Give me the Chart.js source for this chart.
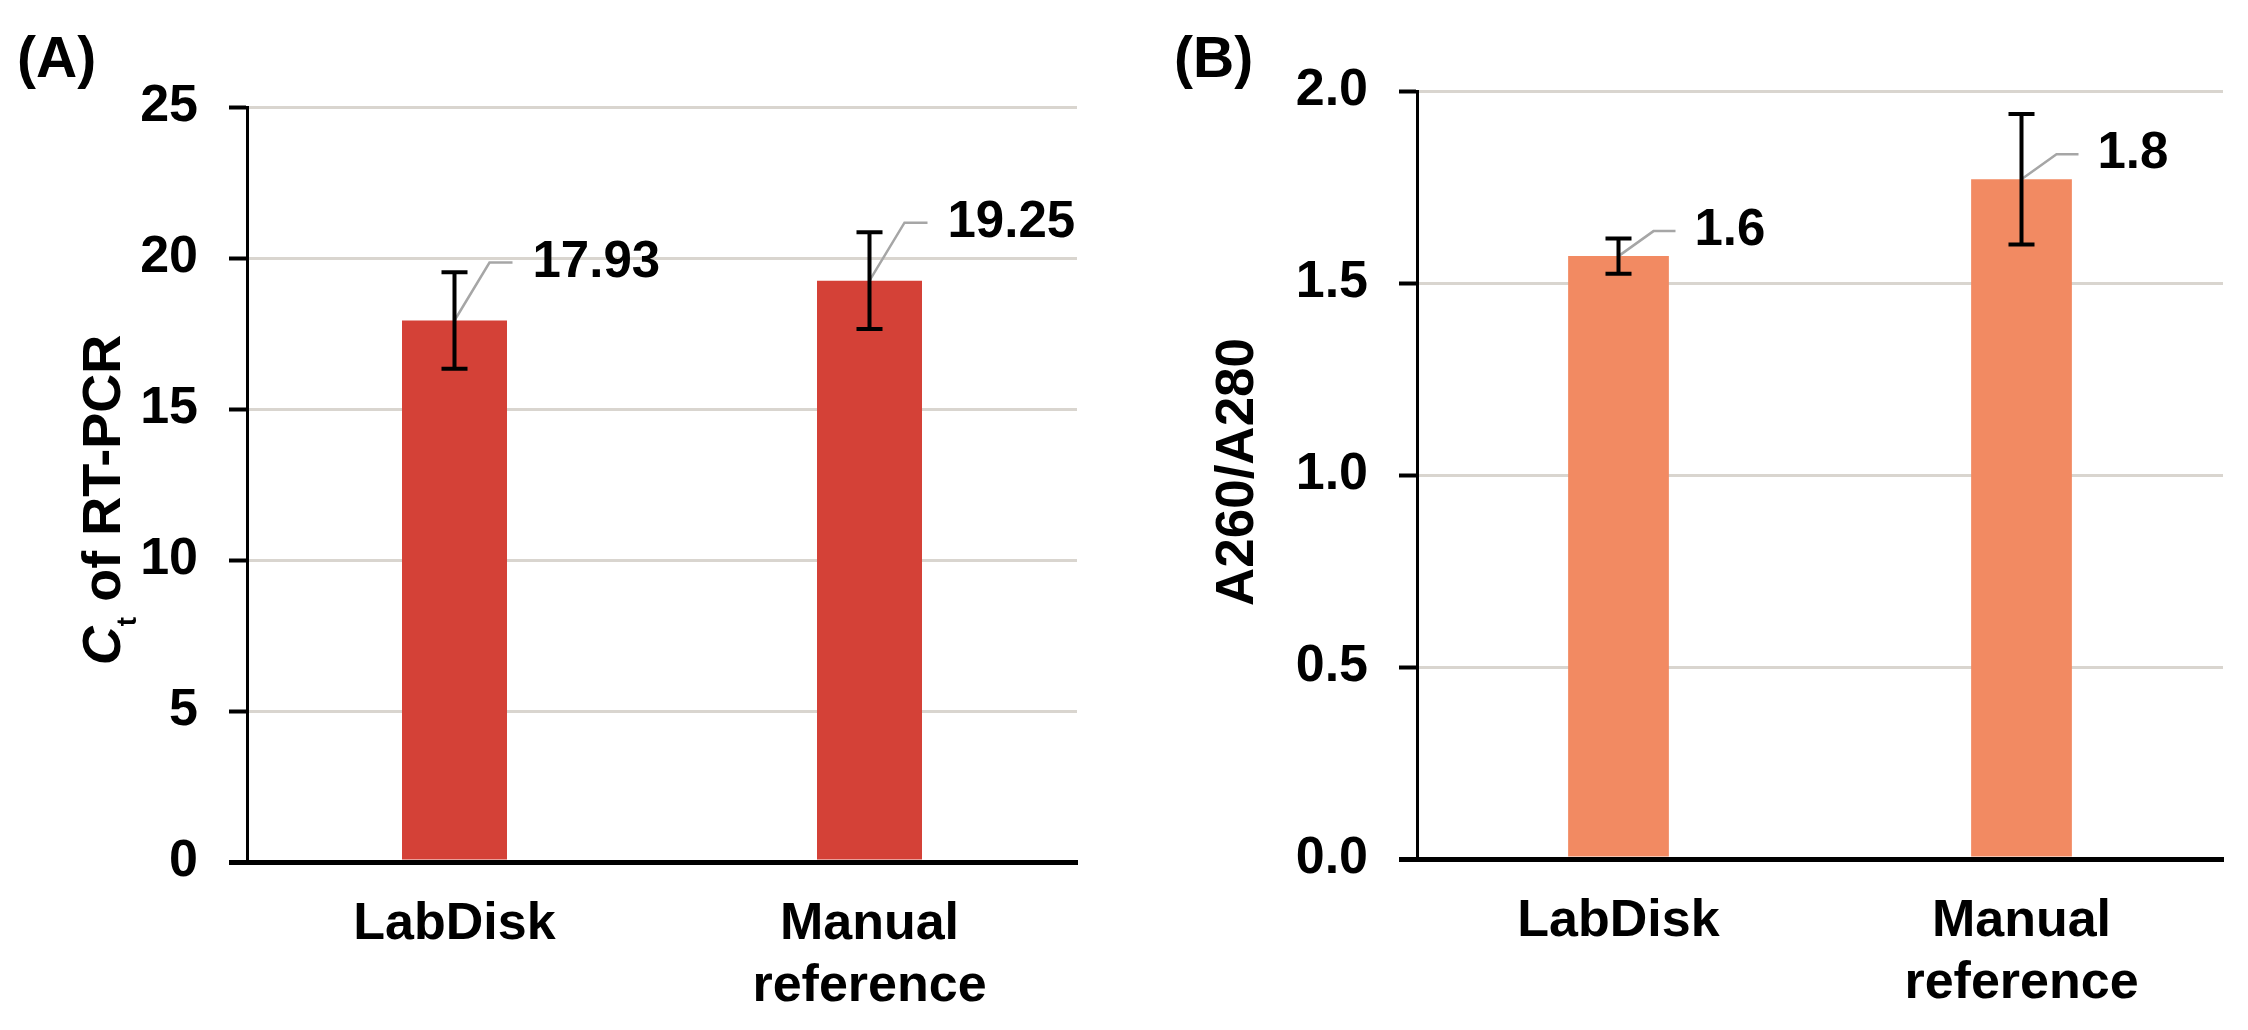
<!DOCTYPE html>
<html>
<head>
<meta charset="utf-8">
<title>LabDisk vs manual reference</title>
<script src="https://cdn.jsdelivr.net/npm/chart.js@4.4.1/dist/chart.umd.min.js"></script>
<style>
    html, body { margin: 0; padding: 0; background: #fff; }
    .panel { position: absolute; top: 0; width: 1124px; height: 1030px; }
    #panelA { left: 0; }
    #panelB { left: 1124px; }
</style>
</head>
<body>
<div class="panel" id="panelA"><canvas id="ctChart"></canvas></div>
<div class="panel" id="panelB"><canvas id="ratioChart"></canvas></div>
<script>
// Categories shared by both panels
const categories = ['LabDisk', ['Manual', 'reference']];

// (A) Ct of RT-PCR
const ctValues = [17.93, 19.25];
const ctErrors = [1.6, 1.6];
const ctTicks = [0, 5, 10, 15, 20, 25];

// (B) A260/A280 ratio
const ratioValues = [1.57, 1.77];
const ratioErrors = [0.046, 0.17];
const ratioTicks = [0.0, 0.5, 1.0, 1.5, 2.0];

const FONT = '"Liberation Sans", Arial, Helvetica, sans-serif';
const GRID_COLOR = '#d9d5cf';

Chart.defaults.font.family = FONT;
Chart.defaults.font.weight = 'bold';
Chart.defaults.color = '#000';

// Value labels with a grey leader line going up-right from the bar top
const valueLabelPlugin = {
    id: 'valueLabels',
    afterDatasetsDraw(chart, args, opts) {
        const ctx = chart.ctx;
        const values = chart.data.datasets[0].data;
        chart.getDatasetMeta(0).data.forEach((bar, i) => {
            const ex = bar.x + opts.dx;
            const ey = bar.y + opts.dy;
            ctx.save();
            ctx.strokeStyle = '#a6a6a6';
            ctx.lineWidth = 2.5;
            ctx.beginPath();
            ctx.moveTo(bar.x, bar.y);
            ctx.lineTo(ex, ey);
            ctx.lineTo(ex + opts.segment, ey);
            ctx.stroke();
            ctx.fillStyle = '#000';
            ctx.font = `bold ${opts.size}px ${FONT}`;
            ctx.textAlign = 'left';
            ctx.textBaseline = 'middle';
            ctx.fillText(values[i].toFixed(opts.decimals), ex + opts.segment + opts.gap, ey);
            ctx.restore();
        });
    }
};

// Error bars: whisker with caps, on top of the bars
const errorBarPlugin = {
    id: 'errorBars',
    afterDatasetsDraw(chart, args, opts) {
        const ctx = chart.ctx;
        const yScale = chart.scales.y;
        const values = chart.data.datasets[0].data;
        const half = opts.capWidth / 2;
        chart.getDatasetMeta(0).data.forEach((bar, i) => {
            const top = yScale.getPixelForValue(values[i] + opts.errors[i]);
            const bottom = yScale.getPixelForValue(values[i] - opts.errors[i]);
            ctx.save();
            ctx.strokeStyle = '#000';
            ctx.lineWidth = opts.lineWidth;
            ctx.beginPath();
            ctx.moveTo(bar.x, top);
            ctx.lineTo(bar.x, bottom);
            ctx.moveTo(bar.x - half, top);
            ctx.lineTo(bar.x + half, top);
            ctx.moveTo(bar.x - half, bottom);
            ctx.lineTo(bar.x + half, bottom);
            ctx.stroke();
            ctx.restore();
        });
    }
};

// Panel letter and rotated y title (built from parts for the Ct subscript)
const panelTextPlugin = {
    id: 'panelText',
    afterDraw(chart, args, opts) {
        const ctx = chart.ctx;
        ctx.save();
        ctx.fillStyle = '#000';
        ctx.textAlign = 'left';
        ctx.textBaseline = 'alphabetic';
        ctx.font = `bold ${opts.letterSize}px ${FONT}`;
        ctx.fillText(opts.letter, opts.letterX, opts.letterY);

        const parts = opts.title.map(p => ({
            text: p.text,
            sub: !!p.sub,
            font: `${p.italic ? 'italic ' : ''}bold ${p.sub ? opts.subSize : opts.titleSize}px ${FONT}`
        }));
        let total = 0;
        parts.forEach(p => {
            ctx.font = p.font;
            p.w = ctx.measureText(p.text).width;
            total += p.w;
        });
        ctx.translate(opts.titleX, opts.titleY);
        ctx.rotate(-Math.PI / 2);
        let x = -total / 2;
        parts.forEach(p => {
            ctx.font = p.font;
            ctx.fillText(p.text, x, p.sub ? opts.subShift : 0);
            x += p.w;
        });
        ctx.restore();
    }
};

function makeChart(canvasId, cfg) {
    const ticks = cfg.ticks;
    return new Chart(document.getElementById(canvasId), {
        type: 'bar',
        data: {
            labels: categories,
            datasets: [{
                data: cfg.values,
                backgroundColor: cfg.color,
                barPercentage: cfg.barPct,
                categoryPercentage: 1
            }]
        },
        options: {
            responsive: true,
            maintainAspectRatio: false,
            animation: false,
            layout: { padding: cfg.padding },
            plugins: {
                legend: { display: false },
                tooltip: { enabled: false },
                valueLabels: cfg.labels,
                errorBars: { errors: cfg.errors, capWidth: 26, lineWidth: 4 },
                panelText: cfg.text
            },
            scales: {
                x: {
                    grid: { display: false, drawTicks: false },
                    border: { display: true, color: '#000', width: 5 },
                    ticks: { font: { size: 52, lineHeight: 1.2 }, padding: 31, color: '#000' },
                    afterFit: s => { s.height = cfg.xHeight; }
                },
                y: {
                    min: ticks[0],
                    max: ticks[ticks.length - 1],
                    ticks: {
                        stepSize: ticks[1] - ticks[0],
                        padding: 31,
                        color: '#000',
                        font: { size: 52 },
                        callback: v => v.toFixed(cfg.tickDecimals)
                    },
                    grid: {
                        color: c => (c.tick && c.tick.value === 0 ? '#000' : GRID_COLOR),
                        lineWidth: c => (c.tick && c.tick.value === 0 ? 5 : 3),
                        tickColor: '#000',
                        tickLength: 18,
                        tickWidth: c => (c.tick && c.tick.value === 0 ? 5 : 4)
                    },
                    border: { display: true, color: '#000', width: 3 },
                    afterFit: s => { s.width = cfg.yWidth; }
                }
            }
        },
        plugins: [valueLabelPlugin, errorBarPlugin, panelTextPlugin]
    });
}

makeChart('ctChart', {
    values: ctValues,
    errors: ctErrors,
    ticks: ctTicks,
    tickDecimals: 0,
    color: '#d44137',
    barPct: 0.253,
    padding: { top: 107, right: 47, left: 0, bottom: 0 },
    yWidth: 247,
    xHeight: 168,
    labels: { dx: 35, dy: -58, segment: 23, gap: 20, size: 51, decimals: 2 },
    text: {
        letter: '(A)', letterSize: 57, letterX: 17, letterY: 77,
        title: [{ text: 'C', italic: true }, { text: 't', sub: true }, { text: ' of RT-PCR' }],
        titleSize: 54, subSize: 28, subShift: 16, titleX: 120, titleY: 500
    }
});

makeChart('ratioChart', {
    values: ratioValues,
    errors: ratioErrors,
    ticks: ratioTicks,
    tickDecimals: 1,
    color: '#f28a62',
    barPct: 0.25,
    padding: { top: 91, right: 25, left: 0, bottom: 0 },
    yWidth: 293,
    xHeight: 171,
    labels: { dx: 35, dy: -25, segment: 22, gap: 19, size: 51, decimals: 1 },
    text: {
        letter: '(B)', letterSize: 57, letterX: 50, letterY: 77,
        title: [{ text: 'A260/A280' }],
        titleSize: 53, subSize: 28, subShift: 16, titleX: 129, titleY: 472
    }
});
</script>
</body>
</html>
